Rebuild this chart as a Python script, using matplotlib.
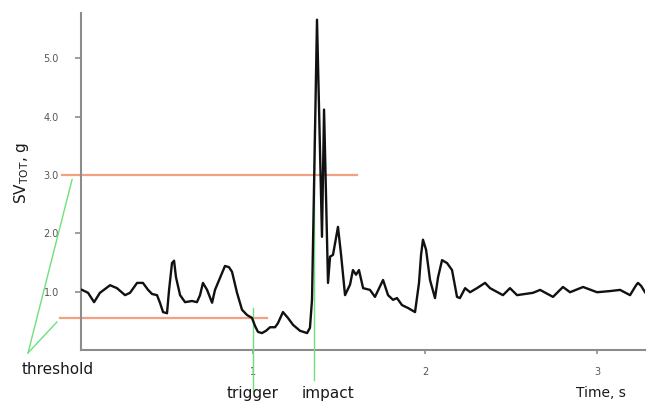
import matplotlib
matplotlib.use("Agg")
import matplotlib.pyplot as plt
import numpy as np

## DATA ##
time_s = [0.006, 0.041, 0.076, 0.110, 0.169, 0.209, 0.256, 0.285, 0.326, 0.360,
          0.390, 0.413, 0.442, 0.459, 0.477, 0.500, 0.512, 0.529, 0.541, 0.552,
          0.576, 0.605, 0.645, 0.674, 0.692, 0.709, 0.733, 0.762, 0.779, 0.820,
          0.837, 0.860, 0.878, 0.907, 0.936, 0.965, 0.994, 1.012, 1.029, 1.052,
          1.076, 1.099, 1.128, 1.145, 1.174, 1.203, 1.233, 1.273, 1.314, 1.331,
          1.343, 1.372, 1.401, 1.413, 1.436, 1.448, 1.465, 1.494, 1.512, 1.535,
          1.564, 1.581, 1.599, 1.616, 1.640, 1.680, 1.709, 1.756, 1.785, 1.814,
          1.837, 1.866, 1.901, 1.942, 1.965, 1.977, 1.988, 2.006, 2.029, 2.058,
          2.076, 2.099, 2.128, 2.157, 2.186, 2.203, 2.233, 2.262, 2.302, 2.349,
          2.378, 2.453, 2.494, 2.535, 2.581, 2.628, 2.669, 2.744, 2.802, 2.843,
          2.919, 3.000, 3.076, 3.134, 3.192, 3.227, 3.238, 3.256, 3.279]
sv_tot = [1.03, 0.98, 0.82, 0.98, 1.11, 1.06, 0.94, 0.98, 1.15, 1.15,
          1.03, 0.96, 0.94, 0.81, 0.65, 0.63, 1.03, 1.49, 1.53, 1.25,
          0.94, 0.82, 0.84, 0.82, 0.94, 1.15, 1.03, 0.81, 1.03, 1.32,
          1.44, 1.42, 1.34, 0.98, 0.69, 0.60, 0.55, 0.41, 0.31, 0.29,
          0.33, 0.39, 0.39, 0.46, 0.65, 0.55, 0.43, 0.33, 0.29, 0.38,
          0.86, 5.66, 1.94, 4.12, 1.15, 1.60, 1.63, 2.11, 1.63, 0.94,
          1.12, 1.37, 1.29, 1.37, 1.06, 1.03, 0.91, 1.20, 0.94, 0.86,
          0.89, 0.77, 0.72, 0.65, 1.15, 1.63, 1.89, 1.72, 1.20, 0.89,
          1.25, 1.54, 1.49, 1.37, 0.91, 0.89, 1.06, 0.99, 1.06, 1.15,
          1.06, 0.94, 1.06, 0.94, 0.96, 0.98, 1.03, 0.91, 1.08, 0.99,
          1.08, 0.99, 1.01, 1.03, 0.94, 1.11, 1.15, 1.10, 0.99]

threshold_low = 0.55
threshold_high = 3.0
t_trigger = 1.0
t_impact = 1.355

x_ticks = [1, 2, 3]
y_ticks = [1, 2, 3, 4, 5]

## COLOURS ##
RED = '#f2a283'
GREEN = '#6fe07a'
GREY = '#8c8c8c'
TEXT = '#1a1a1a'

fig = plt.figure(figsize=(6.47, 4.03), dpi=100)
ax = fig.add_axes([0.1252, 0.1315, 0.872, 0.837])

# threshold lines
ax.plot([-0.11, 1.605], [threshold_high, threshold_high], color=RED, lw=1.6, clip_on=False, zorder=2)
ax.plot([-0.122, 1.08], [threshold_low, threshold_low], color=RED, lw=1.6, clip_on=False, zorder=2)

# pointer lines to the threshold label
ax.plot([-0.308, -0.052], [-0.05, 2.92], color=GREEN, lw=1.0, clip_on=False)
ax.plot([-0.308, -0.14], [-0.05, 0.48], color=GREEN, lw=1.0, clip_on=False)

# trigger and impact markers
ax.plot([t_trigger, t_trigger], [0.72, -0.70], color=GREEN, lw=1.0, clip_on=False, zorder=3)
ax.plot([t_impact, t_impact], [3.77, -0.51], color=GREEN, lw=1.0, clip_on=False, zorder=3)

ax.plot(time_s, sv_tot, color='#111111', lw=1.7, solid_joinstyle='round', zorder=4)

ax.set_xlim(0, 3.28)
ax.set_ylim(0, 5.78)
ax.set_xticks(x_ticks)
ax.set_xticklabels([str(t) for t in x_ticks])
ax.set_yticks(y_ticks)
ax.set_yticklabels([f"{v:.1f}" for v in y_ticks])
ax.tick_params(axis='both', colors=GREY, labelcolor='#555555', labelsize=7, width=1.2)
ax.tick_params(axis='x', length=3, pad=9)
ax.tick_params(axis='y', length=4, pad=12)

for side in ['top', 'right']:
    ax.spines[side].set_visible(False)
for side in ['left', 'bottom']:
    ax.spines[side].set_color(GREY)
    ax.spines[side].set_linewidth(1.5)

ax.text(-0.343, -0.34, 'threshold', fontsize=11, color=TEXT, ha='left', va='center', clip_on=False)
ax.text(t_trigger, -0.74, 'trigger', fontsize=11, color=TEXT, ha='center', va='center', clip_on=False)
ax.text(1.436, -0.74, 'impact', fontsize=11, color=TEXT, ha='center', va='center', clip_on=False)
ax.text(3.02, -0.74, 'Time, s', fontsize=10, color=TEXT, ha='center', va='center', clip_on=False)
fig.text(0.034, 0.57, r'SV$_{\mathregular{TOT}}$, g', fontsize=11, color=TEXT,
         rotation=90, ha='center', va='center')

plt.savefig('out.png', dpi=100)
